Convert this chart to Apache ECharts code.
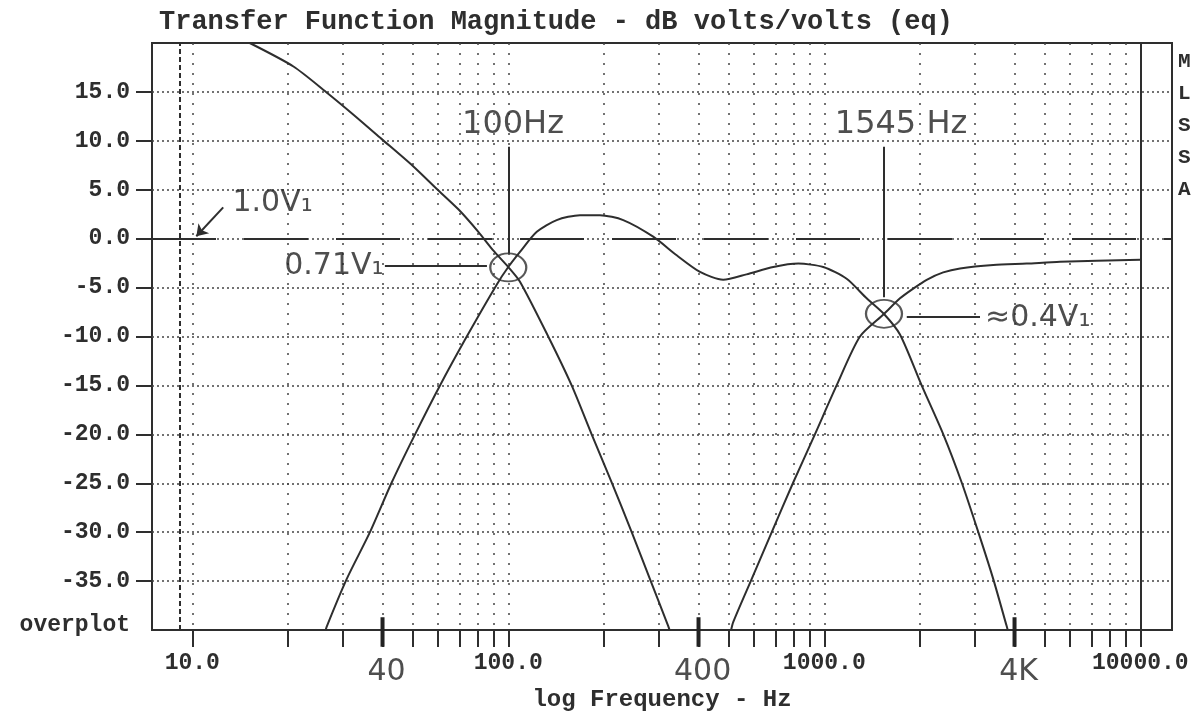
<!DOCTYPE html>
<html>
<head>
<meta charset="utf-8">
<title>Transfer Function Magnitude</title>
<script src="https://cdn.jsdelivr.net/npm/echarts@6.0.0/dist/echarts.min.js"></script>
<style>
  html, body { margin: 0; padding: 0; background: #fff; }
  #chart-box { width: 1202px; height: 717px; }
</style>
</head>
<body>
<div id="chart-box"></div>
<script>
// curve readings: frequency in Hz, level in dB
var lpFreq = [15.2, 20.9, 26.5, 32.3, 39.7, 50.0, 59.3, 69.5, 80.4, 89.6, 100, 108.9, 133.8, 158.7, 183.6, 212.4, 245.8, 280.8, 320.8, 326];
var lpDb   = [20.0, 17.6, 15.0, 12.7, 10.2, 7.4, 5.1, 3.0, 0.7, -1.2, -2.9, -4.4, -10.0, -15.0, -20.0, -24.9, -30.0, -34.8, -39.6, -40.3];

var bpFreq = [26.3, 26.6, 30.8, 36.5, 42.8, 50.7, 60.8, 73.9, 91.9, 100, 108.9, 123.1, 142.3, 168.6, 195.1, 231.1, 287.5, 341.2, 404.3, 478.7, 567.5, 689.7, 827.6, 992.7, 1177, 1362, 1545, 1736, 2033, 2380, 2720, 3072, 3426, 3777, 3830];
var bpDb   = [-40.3, -39.7, -34.8, -30.0, -24.9, -20.0, -15.0, -10.0, -4.7, -2.9, -1.35, 0.7, 1.9, 2.4, 2.4, 1.9, 0.2, -1.7, -3.4, -4.2, -3.65, -2.9, -2.55, -2.9, -4.1, -6.1, -7.7, -9.8, -15.0, -20.0, -24.9, -30.0, -34.8, -39.6, -40.3];

var hpFreq = [505, 515, 589, 682, 798, 934, 1094, 1297, 1545, 1736, 1912, 2109, 2379, 2689, 3426, 4370, 5570, 10000];
var hpDb   = [-40.3, -39.2, -34.8, -30.0, -24.9, -20.0, -15.0, -10.0, -7.7, -6.1, -5.1, -4.2, -3.45, -3.05, -2.7, -2.55, -2.37, -2.15];

// axis ticks
var xTickFreqs = [10, 20, 30, 40, 50, 60, 70, 80, 90,
                  100, 200, 300, 400, 500, 600, 700, 800, 900,
                  1000, 2000, 3000, 4000, 5000, 6000, 7000, 8000, 9000, 10000];
var xLabelFreqs = [10, 100, 1000, 10000];
var yTickDb = [-35, -30, -25, -20, -15, -10, -5, 0, 5, 10, 15];
var yLabelDb = [-40, -35, -30, -25, -20, -15, -10, -5, 0, 5, 10, 15];

// crossover points that were circled by hand, and the hand-marked frequencies
var crossFreq = [100, 1545];
var crossDb = [-2.94, -7.68];
var handFreq = [40, 400, 4000];
var handText = ['40', '400', '4K'];

var ink = '#2e2e2e';
var mono = '"Liberation Mono", "DejaVu Sans Mono", monospace';
var hand = '"DejaVu Sans", sans-serif';

function pairs(xs, ys) {
  return xs.map(function (x, i) { return [x, ys[i]]; });
}

function curve(name, xs, ys) {
  return {
    name: name,
    type: 'line',
    data: pairs(xs, ys),
    showSymbol: false,
    smooth: 0.25,
    lineStyle: { color: ink, width: 2 },
    silent: true,
    z: 5
  };
}

function note(text, f, db, size, align) {
  return {
    value: [f, db],
    label: {
      show: true,
      position: 'inside',
      formatter: text,
      align: align || 'center',
      verticalAlign: 'middle',
      fontFamily: hand,
      fontWeight: 'normal',
      fontSize: size,
      color: '#222'
    }
  };
}

// short strokes across the bottom border at the hand-marked frequencies
var handStrokes = [];
handFreq.forEach(function (f) {
  handStrokes.push([f, -38.7], [f, -41.7], [f, '-']);
});

var chartDom = document.getElementById('chart-box');
var chart = echarts.init(chartDom, null, { renderer: 'canvas' });

var option = {
  animation: false,
  backgroundColor: '#fff',
  title: [
    {
      text: 'Transfer Function Magnitude - dB volts/volts (eq)',
      left: 159,
      top: 9,
      padding: 0,
      textStyle: { fontFamily: mono, fontWeight: 'bold', fontSize: 27, color: ink }
    },
    {
      text: 'M\nL\nS\nS\nA',
      left: 1178,
      top: 46,
      padding: 0,
      textStyle: { fontFamily: mono, fontWeight: 'bold', fontSize: 21, lineHeight: 32, color: ink }
    }
  ],
  grid: {
    left: 152,
    top: 43,
    width: 1020,
    height: 590,
    show: true,
    borderColor: ink,
    borderWidth: 2,
    backgroundColor: 'transparent'
  },
  xAxis: {
    type: 'log',
    logBase: 10,
    min: 7.457,
    max: 12600,
    name: 'log Frequency - Hz',
    nameLocation: 'middle',
    nameGap: 58,
    nameTextStyle: { fontFamily: mono, fontWeight: 'bold', fontSize: 24, color: ink },
    axisLine: { show: false, onZero: false },
    axisTick: {
      show: true,
      inside: false,
      length: 17,
      customValues: xTickFreqs,
      lineStyle: { color: ink, width: 2 }
    },
    axisLabel: {
      customValues: xLabelFreqs,
      margin: 22,
      fontFamily: mono,
      fontWeight: 'bold',
      fontSize: 23,
      color: ink,
      formatter: function (v) { return Number(v).toFixed(1); }
    },
    splitLine: {
      show: true,
      lineStyle: { color: '#444', width: 1.5, type: [2, 8] }
    },
    minorTick: { show: false },
    minorSplitLine: { show: false }
  },
  yAxis: {
    type: 'value',
    min: -40,
    max: 20,
    interval: 5,
    axisLine: { show: false, onZero: false },
    axisTick: {
      show: true,
      inside: false,
      length: 16,
      customValues: yTickDb,
      lineStyle: { color: ink, width: 2 }
    },
    axisLabel: {
      customValues: yLabelDb,
      margin: 22,
      fontFamily: mono,
      fontWeight: 'bold',
      fontSize: 23,
      color: ink,
      formatter: function (v) { return v === -40 ? '{o|overplot}' : Number(v).toFixed(1); },
      rich: {
        o: { fontFamily: mono, fontWeight: 'bold', fontSize: 23, color: ink, padding: [0, 0, 10, 0] }
      }
    },
    splitLine: {
      show: true,
      lineStyle: { color: '#444', width: 1.5, type: [2, 3] }
    }
  },
  series: [
    curve('low', lpFreq, lpDb),
    curve('band', bpFreq, bpDb),
    curve('high', hpFreq, hpDb),
    {
      name: 'marks',
      type: 'line',
      data: [],
      silent: true,
      markLine: {
        silent: true,
        symbol: 'none',
        label: { show: false },
        emphasis: { disabled: true },
        lineStyle: { color: ink, width: 2, type: 'solid' },
        data: [
          { yAxis: 0, lineStyle: { type: [64, 28], width: 2, color: ink } },
          { xAxis: 10000, lineStyle: { width: 2, color: ink } },
          { xAxis: 9.14, lineStyle: { type: [5, 3], width: 2, color: ink } },
          [{ coord: [100, 9.4] }, { coord: [100, -1.5] }],
          [{ coord: [1545, 9.4] }, { coord: [1545, -6.0] }],
          [{ coord: [40.7, -2.75] }, { coord: [85.6, -2.75] }],
          [{ coord: [1824, -7.95] }, { coord: [3110, -7.95] }],
          [{ coord: [12.53, 3.2], symbol: 'none' }, { coord: [10.3, 0.25], symbol: 'arrow', symbolSize: 11 }]
        ]
      }
    },
    {
      name: 'hand ticks',
      type: 'line',
      data: handStrokes,
      clip: false,
      connectNulls: false,
      showSymbol: false,
      silent: true,
      lineStyle: { color: '#222', width: 4 },
      z: 6
    },
    {
      name: 'circles',
      type: 'scatter',
      data: pairs(crossFreq, crossDb),
      symbol: 'circle',
      symbolSize: [36, 28],
      itemStyle: { color: 'transparent', borderColor: ink, borderWidth: 2 },
      silent: true,
      z: 6
    },
    {
      name: 'notes',
      type: 'scatter',
      clip: false,
      symbolSize: 0,
      silent: true,
      data: [
        note('100Hz', 103.5, 11.7, 32),
        note('1545 Hz', 1749, 11.6, 32),
        note('1.0V\u2081', 13.4, 3.65, 30, 'left'),
        note('0.71V\u2081', 40.3, -2.85, 30, 'right'),
        note('\u22480.4V\u2081', 3226, -8.1, 30, 'left')
      ].concat(handFreq.map(function (f, i) {
        return note(handText[i], f * 1.03, -44.3, 30);
      })),
      z: 7
    }
  ]
};

option && chart.setOption(option);
</script>
</body>
</html>
